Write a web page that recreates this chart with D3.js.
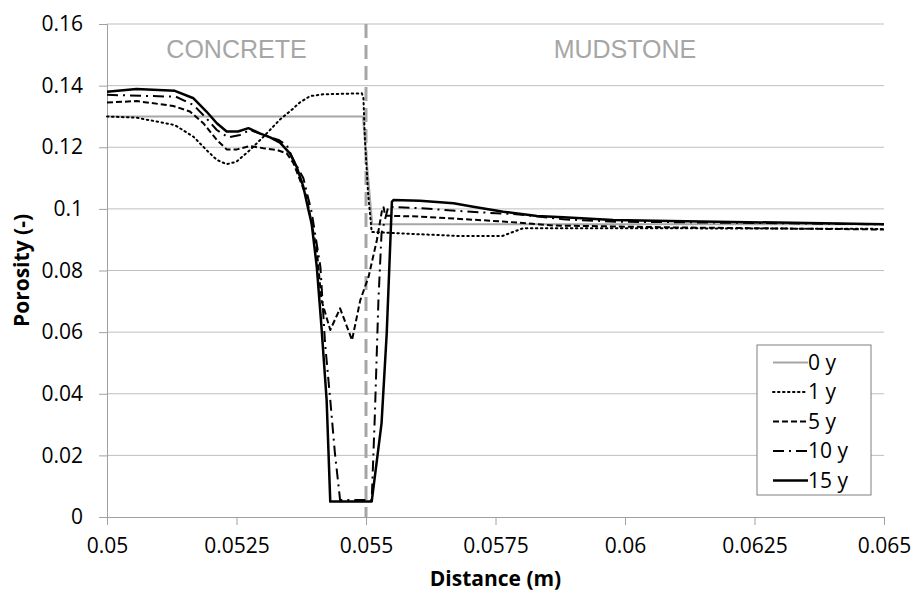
<!DOCTYPE html>
<html>
<head>
<meta charset="utf-8">
<script src="https://cdn.jsdelivr.net/npm/d3@7"></script>
<style>
  html, body { margin: 0; padding: 0; background: #fff; }
  svg { display: block; }
</style>
</head>
<body>
<div id="chart"></div>
<script>
// Porosity profiles across the concrete / mudstone interface
const xTicks = [0.05, 0.0525, 0.055, 0.0575, 0.06, 0.0625, 0.065];
const yTicks = [0, 0.02, 0.04, 0.06, 0.08, 0.1, 0.12, 0.14, 0.16];
const seriesNames = ['0 y', '1 y', '5 y', '10 y', '15 y'];

const x0y = [0.05, 0.05494, 0.05512, 0.065];
const p0y = [0.130, 0.130, 0.095, 0.095];

const x1y = [0.05, 0.05057, 0.05131, 0.05167, 0.05192, 0.05212, 0.05231, 0.05250, 0.05276, 0.05302,
  0.05334, 0.05359, 0.05372, 0.05392, 0.05418, 0.05492, 0.05495, 0.05498, 0.05504, 0.05511,
  0.05559, 0.05681, 0.05763, 0.05803, 0.06087, 0.065];
const p1y = [0.1300, 0.1296, 0.1272, 0.1234, 0.1191, 0.1159, 0.1145, 0.1153, 0.1191, 0.1234,
  0.1290, 0.1325, 0.1345, 0.1366, 0.1372, 0.1375, 0.1360, 0.1224, 0.1051, 0.0925,
  0.0921, 0.0912, 0.0912, 0.0937, 0.0937, 0.0935];

const x5y = [0.05, 0.05057, 0.05128, 0.05160, 0.05186, 0.05212, 0.05231, 0.05251, 0.05276, 0.05302,
  0.05328, 0.05347, 0.05360, 0.05385, 0.05405, 0.05414, 0.05431, 0.05450, 0.05473, 0.05489,
  0.05505, 0.05521, 0.05531, 0.05534, 0.05537, 0.05604, 0.05765, 0.05862, 0.06087, 0.065];
const p5y = [0.1345, 0.1350, 0.1334, 0.1316, 0.1278, 0.1224, 0.1193, 0.1193, 0.1204, 0.1197,
  0.1191, 0.1180, 0.1148, 0.1040, 0.0867, 0.0704, 0.0607, 0.0677, 0.0574, 0.0704,
  0.0780, 0.0899, 0.0996, 0.1005, 0.0978, 0.0975, 0.0959, 0.0946, 0.0940, 0.0933];

const x10y = [0.05, 0.05133, 0.05167, 0.05192, 0.05212, 0.05234, 0.05257, 0.05276, 0.05302, 0.05331,
  0.05347, 0.05360, 0.05379, 0.05395, 0.05412, 0.05421, 0.05431, 0.05440, 0.05450, 0.05511,
  0.05517, 0.05524, 0.05530, 0.05543, 0.05604, 0.05718, 0.05795, 0.05881, 0.05991, 0.06087, 0.065];
const p10y = [0.1370, 0.1364, 0.1337, 0.1294, 0.1256, 0.1232, 0.1240, 0.1256, 0.1240, 0.1224,
  0.1207, 0.1159, 0.1100, 0.0990, 0.0812, 0.0563, 0.0380, 0.0207, 0.0055, 0.0055,
  0.0326, 0.0704, 0.0921, 0.1007, 0.1002, 0.0989, 0.0982, 0.0966, 0.0958, 0.0957, 0.0950];

const x15y = [0.05, 0.05057, 0.05131, 0.05167, 0.05192, 0.05212, 0.05231, 0.05253, 0.05273, 0.05295,
  0.05315, 0.05334, 0.05353, 0.05366, 0.05379, 0.05389, 0.05395, 0.05405, 0.05414, 0.05424,
  0.05431, 0.05511, 0.05530, 0.05540, 0.05550, 0.05553, 0.05604, 0.05669, 0.05707, 0.05765,
  0.05830, 0.05881, 0.05977, 0.06087, 0.065];
const p15y = [0.1380, 0.1389, 0.1383, 0.1359, 0.1316, 0.1278, 0.1251, 0.1251, 0.1262, 0.1245,
  0.1232, 0.1215, 0.1180, 0.1137, 0.1072, 0.0996, 0.0953, 0.0812, 0.0618, 0.0380,
  0.0050, 0.0050, 0.0304, 0.0596, 0.1023, 0.1029, 0.1026, 0.1018, 0.1007, 0.0991,
  0.0977, 0.0973, 0.0964, 0.0961, 0.0950];

const interfaceX = 0.055;

const W = 914, H = 596;
const margin = { top: 24, right: 30, bottom: 79, left: 107 };
const width = W - margin.left - margin.right;
const height = H - margin.top - margin.bottom;

const svg = d3.select('#chart').append('svg')
  .attr('width', W).attr('height', H)
  .style('font-family', '"Open Sans", "Noto Sans", sans-serif');

const g = svg.append('g').attr('transform', `translate(${margin.left},${margin.top})`);

const x = d3.scaleLinear().domain([0.05, 0.065]).range([0, width]);
const y = d3.scaleLinear().domain([0, 0.16]).range([height, 0]);

// gridlines
g.append('g')
  .selectAll('line')
  .data(yTicks.filter(d => d > 0))
  .join('line')
  .attr('x1', 0).attr('x2', width)
  .attr('y1', d => y(d)).attr('y2', d => y(d))
  .attr('stroke', '#bfbfbf').attr('stroke-width', 1);

// axes
const yAxis = g.append('g')
  .call(d3.axisLeft(y).tickValues(yTicks).tickSize(8).tickPadding(16).tickFormat(d => String(+d.toFixed(2))));
const xAxis = g.append('g')
  .attr('transform', `translate(0,${height})`)
  .call(d3.axisBottom(x).tickValues(xTicks).tickSize(8).tickPadding(13).tickFormat(d => String(+d.toFixed(4))));

[yAxis, xAxis].forEach(a => {
  a.select('.domain').attr('stroke', '#a0a0a0');
  a.selectAll('.tick line').attr('stroke', '#a0a0a0');
  a.selectAll('.tick text').attr('fill', '#000').style('font-size', '21px')
    .style('font-family', '"Open Sans", sans-serif');
});

// interface line
g.append('line')
  .attr('x1', x(interfaceX)).attr('x2', x(interfaceX))
  .attr('y1', 0).attr('y2', height)
  .attr('stroke', '#a6a6a6').attr('stroke-width', 3)
  .attr('stroke-dasharray', '14,7');

// region labels
g.append('text')
  .attr('x', (x(0.05) + x(interfaceX)) / 2).attr('y', 34)
  .attr('text-anchor', 'middle').attr('fill', '#a6a6a6')
  .style('font-family', '"Liberation Sans", Arial, sans-serif').style('font-size', '25px')
  .text('CONCRETE');
g.append('text')
  .attr('x', (x(interfaceX) + x(0.065)) / 2).attr('y', 34)
  .attr('text-anchor', 'middle').attr('fill', '#a6a6a6')
  .style('font-family', '"Liberation Sans", Arial, sans-serif').style('font-size', '25px')
  .text('MUDSTONE');

const series = [
  { name: seriesNames[0], xs: x0y, ys: p0y, color: '#a6a6a6', width: 2, dash: null },
  { name: seriesNames[1], xs: x1y, ys: p1y, color: '#000', width: 2, dash: '1.5,3.5', cap: 'round' },
  { name: seriesNames[2], xs: x5y, ys: p5y, color: '#000', width: 2, dash: '6,3' },
  { name: seriesNames[3], xs: x10y, ys: p10y, color: '#000', width: 2, dash: '11,5,2,5' },
  { name: seriesNames[4], xs: x15y, ys: p15y, color: '#000', width: 2.5, dash: null },
];

const line = d3.line().x(d => x(d[0])).y(d => y(d[1]));

series.forEach(s => {
  g.append('path')
    .datum(s.xs.map((v, i) => [v, s.ys[i]]))
    .attr('d', line)
    .attr('fill', 'none')
    .attr('stroke', s.color)
    .attr('stroke-width', s.width)
    .attr('stroke-linejoin', 'round')
    .attr('stroke-linecap', s.cap || 'butt')
    .attr('stroke-dasharray', s.dash);
});

// legend
const legend = svg.append('g').attr('transform', 'translate(757,345)');
legend.append('rect')
  .attr('width', 114).attr('height', 150)
  .attr('fill', '#fff').attr('stroke', '#7f7f7f').attr('stroke-width', 1);
series.forEach((s, i) => {
  const ly = 17.5 + i * 29.5;
  legend.append('line')
    .attr('x1', 16).attr('x2', 51).attr('y1', ly).attr('y2', ly)
    .attr('stroke', s.color).attr('stroke-width', s.width)
    .attr('stroke-linecap', s.cap || 'butt')
    .attr('stroke-dasharray', s.dash);
  legend.append('text')
    .attr('x', 51).attr('y', ly).attr('dy', '0.35em')
    .style('font-size', '21px').attr('fill', '#000')
    .text(s.name);
});

// axis titles
svg.append('text')
  .attr('x', margin.left + width / 2).attr('y', 586)
  .attr('text-anchor', 'middle').style('font-weight', 'bold').style('font-size', '21px')
  .text('Distance (m)');
svg.append('text')
  .attr('transform', `translate(29,${margin.top + height / 2}) rotate(-90)`)
  .attr('text-anchor', 'middle').style('font-weight', 'bold').style('font-size', '21px')
  .text('Porosity (-)');
</script>
</body>
</html>
